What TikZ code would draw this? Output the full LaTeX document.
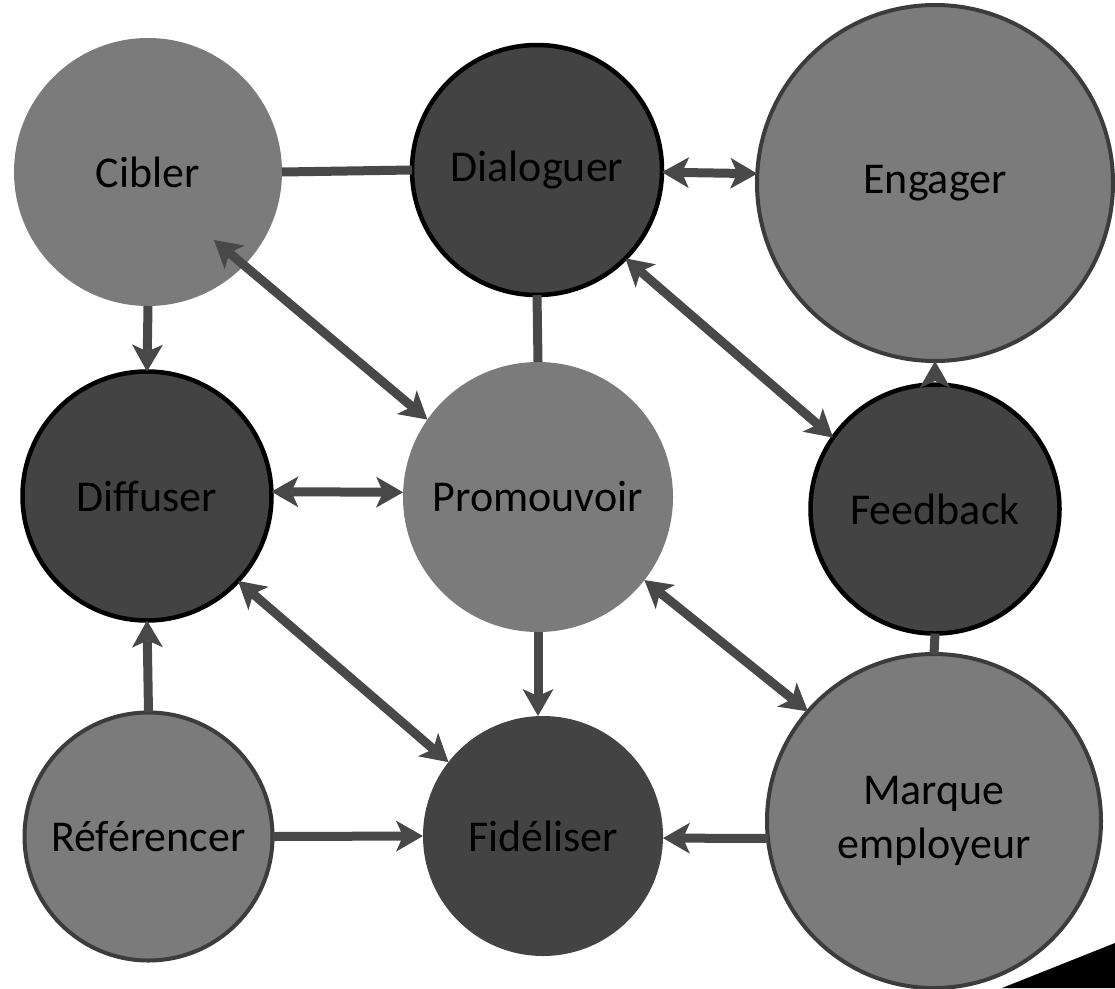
\documentclass[tikz,border=0pt]{standalone}
\usepackage{fontspec}
\setmainfont{Carlito}
\usetikzlibrary{arrows.meta,calc}
\definecolor{lightc}{RGB}{123,123,123}
\definecolor{darkc}{RGB}{67,67,67}
\definecolor{linec}{RGB}{72,72,72}
\definecolor{rimc}{RGB}{60,60,60}
\tikzset{
  bubble/.style={circle, inner sep=0pt, outer sep=0pt, align=center,
    font=\fontsize{44}{54}\selectfont, text=black},
  lightb/.style={bubble, fill=lightc},
  lightrim/.style={bubble, fill=lightc, draw=rimc, line width=4pt},
  darkb/.style={bubble, fill=darkc},
  darkrim/.style={bubble, fill=darkc, draw=black, line width=4.5pt},
  conn/.style={draw=linec, line width=9pt},
  tip/.tip={Stealth[length=27pt,width=31pt,inset=7pt,line width=0pt]},
  onearrow/.style={conn, -tip},
  twoarrow/.style={conn, tip-tip},
}
\begin{document}
\begin{tikzpicture}[x=1pt,y=-1pt]
\useasboundingbox (0,0) rectangle (1115,988);
% nodes
\node[lightb,   minimum size=268pt] (cib) at (148,172) {Cibler};
\node[darkrim,  minimum size=250pt] (dia) at (537,170) {Dialoguer};
\node[lightrim, minimum size=356pt] (eng) at (935,183) {Engager};
\node[darkrim,  minimum size=249pt] (dif) at (147,496) {Diffuser};
\node[lightb,   minimum size=270pt] (pro) at (538,497) {Promouvoir};
\node[darkrim,  minimum size=249pt] (fee) at (935,509) {Feedback};
\node[lightrim, minimum size=248pt] (ref) at (148.5,836.5) {Référencer};
\node[darkb,    minimum size=240pt] (fid) at (543,836) {Fidéliser};
\node[lightrim, minimum size=334pt] (mar) at (934,821) {Marque\\employeur};
% connectors
\draw[conn] (cib.east) -- (dia.west);
\draw[twoarrow] (dia.-1) -- (eng.177);
\draw[onearrow] (cib.south) -- (dif.north);
\draw[twoarrow] ([shift={(66,68)}]cib.center) -- (pro.145.5);
\draw[conn] (dia.south) -- (pro.north);
\draw[twoarrow] (dia.-45) -- (fee.145);
\draw[onearrow] ([yshift=8pt]fee.north) -- (eng.south);
\draw[conn] (fee.south) -- (mar.north);
\draw[twoarrow] (dif.2) -- (pro.178);
\draw[twoarrow] (dif.-43) -- (fid.142);
\draw[onearrow] (pro.south) -- (pro.south |- fid.north);
\draw[twoarrow] (pro.-38) -- (mar.139.5);
\draw[onearrow] (ref.north) -- (dif.south);
\draw[onearrow] (ref.east) -- (fid.west);
\draw[onearrow] (mar.186) -- (fid.-1);
% corner wedge
\fill[black] (1002,988) -- (1115,943) -- (1115,988) -- cycle;
\end{tikzpicture}
\end{document}
